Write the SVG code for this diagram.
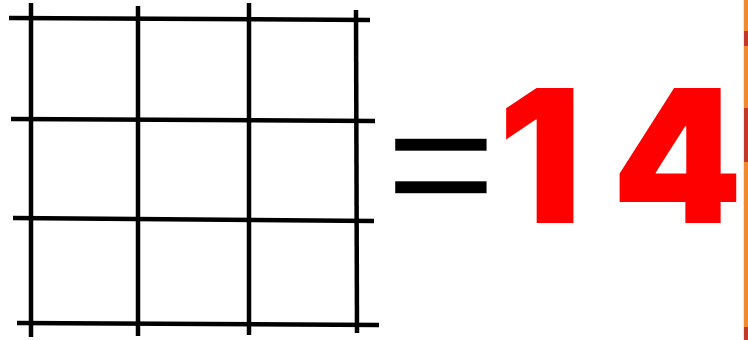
<svg xmlns="http://www.w3.org/2000/svg" width="748" height="340" viewBox="0 0 748 340">
<style>
.g line{stroke:#000;stroke-width:4.5;stroke-linecap:butt}
.t{font-family:Inter,"Liberation Sans",sans-serif}
</style>
<rect width="748" height="340" fill="#fff"/>
<g id="grid" class="g">
<line x1="9" y1="18" x2="370" y2="20"/>
<line x1="11" y1="119" x2="375" y2="121"/>
<line x1="13" y1="218" x2="374" y2="221"/>
<line x1="17" y1="323" x2="379" y2="325"/>
<line x1="31" y1="3" x2="31" y2="337"/>
<line x1="138" y1="6" x2="138" y2="336"/>
<line x1="249" y1="3" x2="249" y2="335"/>
<line x1="356" y1="10" x2="357" y2="333"/>
</g>
<g id="equals">
<text class="t" transform="translate(395,222) scale(1.25,1.13)" x="-21.1" y="0" font-size="173" font-weight="500" fill="#000" stroke="#fff" stroke-width="5.8" stroke-linejoin="miter">=</text>
</g>
<g id="result">
<text class="t" font-size="186" font-weight="900" fill="#f00"><tspan x="498" y="223">1</tspan><tspan x="612" y="223">4</tspan></text>
</g>
<g id="edge">
<rect x="743" y="0" width="1" height="340" fill="#f3e6d8"/>
<rect x="744" y="0" width="4" height="340" fill="#ef8a2e"/>
<rect x="744" y="31" width="4" height="15" fill="#c0392b"/>
<rect x="744" y="108" width="4" height="54" fill="#c0392b"/>
<rect x="744" y="327" width="4" height="13" fill="#c0392b"/>
</g>
</svg>
